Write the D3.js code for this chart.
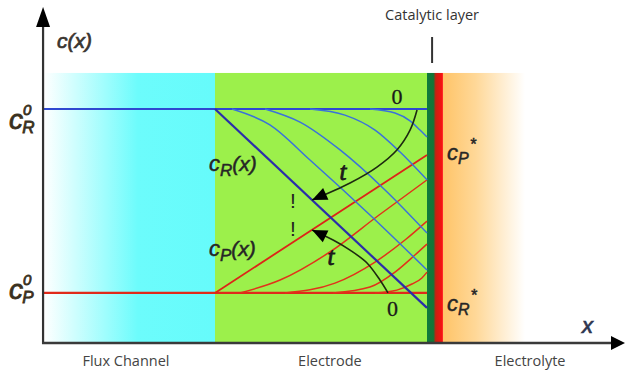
<!DOCTYPE html>
<html>
<head>
<meta charset="utf-8">
<script src="https://cdn.jsdelivr.net/npm/d3@7"></script>
<style>
  html, body { margin: 0; padding: 0; background: #fff; }
  svg { display: block; }
</style>
</head>
<body>
<svg id="chart" width="626" height="374"></svg>
<script>
// ---- Data ---------------------------------------------------------------
// x: position, 0 = channel/electrode interface, 1 = catalytic layer
// c: normalised concentration
const regionNames   = ["Flux Channel", "Electrode", "Electrolyte"];
const regionCenters = [-0.42, 0.542, 1.486];
const channelSpan     = [-0.807, 0];
const electrodeSpan   = [0, 1];
const catalyticSpan   = [1, 1.035];
const reactionSpan    = [1.035, 1.075];
const electrolyteSpan = [1.075, 1.462];
const regionTop = 1.154;

const cR0 = 1.0, cP0 = 0.214, cRstar = 0.150, cPstar = 0.803;

// reactant profiles c_R(x) at increasing times (t = 0 is the flat line)
const reactantProfiles = [
  [[0.731, 1.0], [0.849, 0.983], [0.920, 0.949], [0.967, 0.910], [1, 0.880]],
  [[0.448, 1.0], [0.613, 0.974], [0.755, 0.910], [0.873, 0.816], [1, 0.697]],
  [[0.236, 1.0], [0.401, 0.944], [0.590, 0.825], [0.802, 0.654], [1, 0.470]],
  [[0.080, 1.0], [0.259, 0.932], [0.448, 0.782], [0.731, 0.547], [1, 0.312]]
];
const reactantSteady = [[0, cR0], [1, cRstar]];

// product profiles c_P(x) at increasing times
const productProfiles = [
  [[0.755, 0.214], [0.858, 0.226], [0.929, 0.252], [0.976, 0.278], [1, 0.303]],
  [[0.557, 0.214], [0.731, 0.239], [0.849, 0.303], [0.943, 0.376], [1, 0.423]],
  [[0.330, 0.214], [0.566, 0.256], [0.755, 0.346], [0.896, 0.440], [1, 0.521]],
  [[0.118, 0.214], [0.307, 0.269], [0.542, 0.389], [0.774, 0.547], [1, 0.697]]
];
const productSteady = [[0, cP0], [1, cPstar]];

// time arrows (points along each arc, arrow head at the last point)
const reactantArrow = [[0.953, 0.996], [0.920, 0.910], [0.858, 0.825], [0.764, 0.752], [0.637, 0.684], [0.458, 0.611]];
const productArrow  = [[0.816, 0.214], [0.778, 0.269], [0.717, 0.342], [0.637, 0.397], [0.557, 0.440], [0.458, 0.483]];

// ---- Chart --------------------------------------------------------------
const svg = d3.select("#chart");
const x = d3.scaleLinear().domain([0, 1]).range([215, 427]);
const y = d3.scaleLinear().domain([0, 1]).range([343, 109]);
const xAxisSpan = [-0.811, 1.934];
const yAxisTop = 1.436;

const defs = svg.append("defs");
const gCyan = defs.append("linearGradient").attr("id", "gCyan");
gCyan.append("stop").attr("offset", "0").attr("stop-color", "#ffffff");
gCyan.append("stop").attr("offset", "0.55").attr("stop-color", "#6cfcfc");
gCyan.append("stop").attr("offset", "1").attr("stop-color", "#66fbfb");
const gOrange = defs.append("linearGradient").attr("id", "gOrange");
gOrange.append("stop").attr("offset", "0").attr("stop-color", "#ffc468");
gOrange.append("stop").attr("offset", "0.4").attr("stop-color", "#ffd898");
gOrange.append("stop").attr("offset", "1").attr("stop-color", "#ffffff");
const gStrip = defs.append("linearGradient").attr("id", "gStrip");
gStrip.append("stop").attr("offset", "0").attr("stop-color", "#0e7a3c");
gStrip.append("stop").attr("offset", "0.4").attr("stop-color", "#137536");
gStrip.append("stop").attr("offset", "0.55").attr("stop-color", "#c82010");
gStrip.append("stop").attr("offset", "1").attr("stop-color", "#ff1010");

const band = (span, fill) => svg.append("rect")
  .attr("x", x(span[0])).attr("y", y(regionTop))
  .attr("width", x(span[1]) - x(span[0]))
  .attr("height", y(0) - y(regionTop))
  .attr("fill", fill);

band(channelSpan, "url(#gCyan)");
band(electrodeSpan, "#9cf04b");
band(electrolyteSpan, "url(#gOrange)");
band([catalyticSpan[0], reactionSpan[1]], "url(#gStrip)");

const line = d3.line().x(d => x(d[0])).y(d => y(d[1])).curve(d3.curveMonotoneX);
const arc = d3.line().x(d => x(d[0])).y(d => y(d[1])).curve(d3.curveCatmullRom);

// product (red) profiles
svg.append("line")
  .attr("x1", x(xAxisSpan[0])).attr("x2", x(1))
  .attr("y1", y(cP0)).attr("y2", y(cP0))
  .attr("stroke", "#e02a1a").attr("stroke-width", 2.2);
svg.selectAll("path.prod").data(productProfiles).join("path")
  .attr("class", "prod").attr("d", line)
  .attr("fill", "none").attr("stroke", "#e2321a").attr("stroke-width", 1.5);
svg.append("path").attr("d", line(productSteady))
  .attr("fill", "none").attr("stroke", "#dd2418").attr("stroke-width", 1.8);

// reactant (blue) profiles
svg.append("line")
  .attr("x1", x(xAxisSpan[0])).attr("x2", x(1))
  .attr("y1", y(cR0)).attr("y2", y(cR0))
  .attr("stroke", "#2f48d0").attr("stroke-width", 2.2);
svg.selectAll("path.reac").data(reactantProfiles).join("path")
  .attr("class", "reac").attr("d", line)
  .attr("fill", "none").attr("stroke", "#3a72da").attr("stroke-width", 1.5);
svg.append("path").attr("d", line(reactantSteady))
  .attr("fill", "none").attr("stroke", "#2a2eaa").attr("stroke-width", 2.2);

// time arrows
function timeArrow(pts) {
  svg.append("path").attr("d", arc(pts))
    .attr("fill", "none").attr("stroke", "#1d2a10").attr("stroke-width", 1.6);
  const p1 = pts[pts.length - 2], p2 = pts[pts.length - 1];
  const tx = x(p2[0]), ty = y(p2[1]);
  const ang = Math.atan2(ty - y(p1[1]), tx - x(p1[0]));
  const L = 15, Wd = 6.5;
  const bx = tx - L * Math.cos(ang), by = ty - L * Math.sin(ang);
  const nx = -Math.sin(ang) * Wd, ny = Math.cos(ang) * Wd;
  svg.append("path")
    .attr("d", `M${tx},${ty}L${bx + nx},${by + ny}L${bx - nx},${by - ny}Z`)
    .attr("fill", "#000");
}
timeArrow(reactantArrow);
timeArrow(productArrow);

// axes
const axisColor = "#333";
svg.append("line")
  .attr("x1", x(xAxisSpan[0])).attr("x2", x(xAxisSpan[0]))
  .attr("y1", y(0) + 1).attr("y2", y(yAxisTop) + 18)
  .attr("stroke", axisColor).attr("stroke-width", 2.2);
svg.append("path")
  .attr("d", `M${x(xAxisSpan[0])},${y(yAxisTop)}l-7,20h14z`).attr("fill", "#000");
svg.append("line")
  .attr("x1", x(xAxisSpan[0]) - 1).attr("x2", x(xAxisSpan[1]) - 12)
  .attr("y1", y(0)).attr("y2", y(0))
  .attr("stroke", "#3a3a3a").attr("stroke-width", 2.6);
svg.append("path")
  .attr("d", `M${x(xAxisSpan[1])},${y(0)}l-14,-7v14z`).attr("fill", "#000");

// catalytic layer marker
svg.append("line")
  .attr("x1", x(1.024)).attr("x2", x(1.024))
  .attr("y1", 37).attr("y2", 63)
  .attr("stroke", "#333").attr("stroke-width", 2);
svg.append("text").text("Catalytic layer")
  .attr("x", x(1.024)).attr("y", 20).attr("text-anchor", "middle")
  .attr("font-family", "Open Sans, sans-serif").attr("font-size", 14.5)
  .attr("fill", "#333");

// region labels
svg.selectAll("text.region").data(regionNames).join("text")
  .attr("class", "region").text(d => d)
  .attr("x", (d, i) => x(regionCenters[i])).attr("y", 366)
  .attr("text-anchor", "middle")
  .attr("font-family", "Open Sans, sans-serif").attr("font-size", 14.5)
  .attr("fill", "#444");

// math labels
const sans = "Liberation Sans, Arial, sans-serif";
const serif = "Liberation Serif, Times New Roman, serif";
function mathLabel(px, py, parts, color, weight) {
  const col = color || "#262626";
  const t = svg.append("text").attr("x", px).attr("y", py)
    .attr("font-family", sans).attr("font-style", "italic").attr("fill", col)
    .attr("stroke", col).attr("stroke-width", weight == null ? 0.5 : weight)
    .attr("paint-order", "stroke");
  parts.forEach(p => {
    const s = t.append("tspan").text(p.text).attr("font-size", p.size);
    if (p.dy) s.attr("dy", p.dy);
    if (p.dx) s.attr("dx", p.dx);
  });
  return t;
}
mathLabel(57, 48, [{text: "c(x)", size: 21}], "#3a3530", 0.7);
mathLabel(9, 129, [{text: "c", size: 28}, {text: "0", size: 15, dy: -14, dx: 0}, {text: "R", size: 17, dy: 18, dx: -9}], "#3a3020", 0.8);
mathLabel(9, 299, [{text: "c", size: 28}, {text: "0", size: 15, dy: -14, dx: 0}, {text: "P", size: 17, dy: 18, dx: -9}], "#3a3020", 0.8);
mathLabel(209, 171, [{text: "c", size: 22}, {text: "R", size: 17, dy: 5}, {text: "(x)", size: 21, dy: -5}]);
mathLabel(209, 256, [{text: "c", size: 22}, {text: "P", size: 17, dy: 5}, {text: "(x)", size: 21, dy: -5}]);
mathLabel(447, 160, [{text: "c", size: 22}, {text: "P", size: 16, dy: 4}, {text: "*", size: 16, dy: -14, dx: 1}]);
mathLabel(447, 311, [{text: "c", size: 22}, {text: "R", size: 16, dy: 4}, {text: "*", size: 16, dy: -14, dx: 1}]);
mathLabel(582, 333, [{text: "x", size: 22}], "#2d3550", 0.7);

// time labels
const serifText = (px, py, str, size, italic) => svg.append("text").text(str)
  .attr("x", px).attr("y", py).attr("text-anchor", "middle")
  .attr("font-family", serif).attr("font-size", size)
  .attr("font-style", italic ? "italic" : "normal").attr("fill", "#1a1a1a")
  .attr("stroke", "#1a1a1a").attr("stroke-width", italic ? 0.8 : 0.3);
serifText(x(0.858), 104, "0", 22, false);
serifText(x(0.837), 316, "0", 22, false);
serifText(x(0.604), 180, "t", 25, true);
serifText(x(0.547), 265, "t", 25, true);

// dotted "!" marks between the two arrow heads
[208, 236].forEach(py => svg.append("text").text("!")
  .attr("x", x(0.368)).attr("y", py).attr("text-anchor", "middle")
  .attr("font-family", sans).attr("font-size", 21).attr("fill", "#222"));
</script>
</body>
</html>
